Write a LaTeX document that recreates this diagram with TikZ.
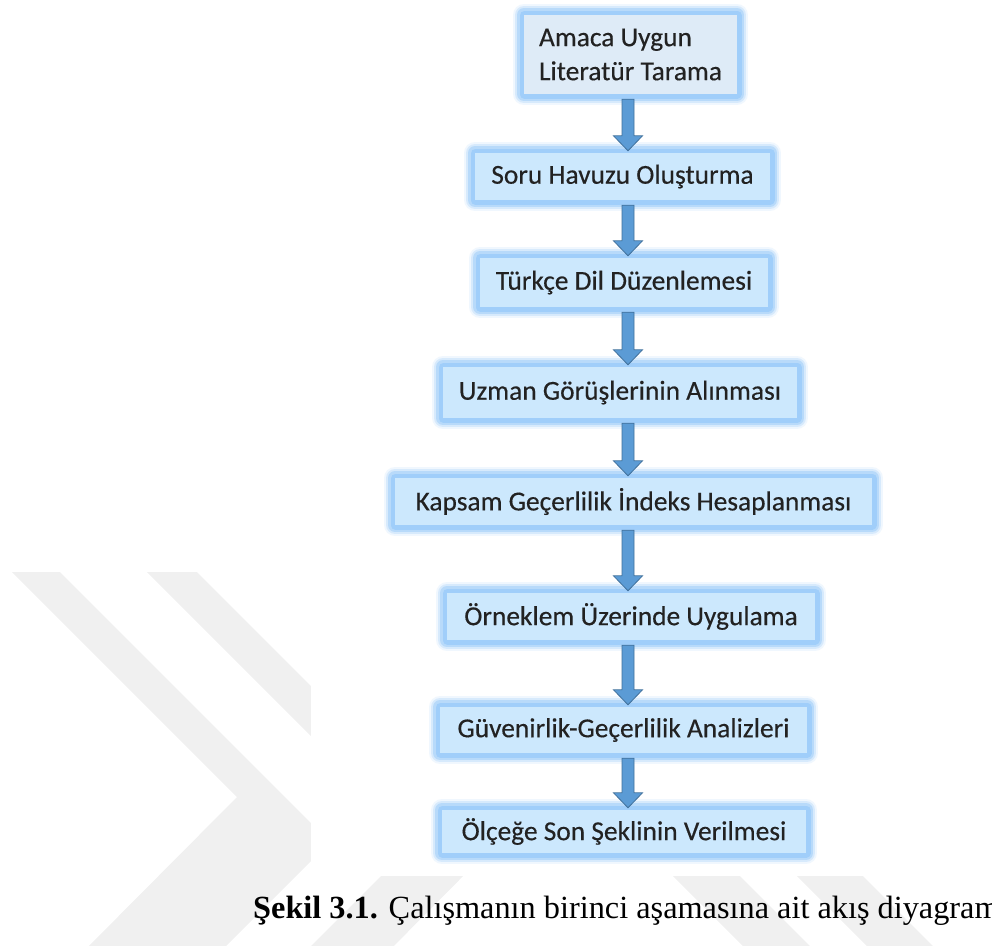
\documentclass[tikz,border=0pt]{standalone}
\usepackage{fontspec}
\setmainfont{Carlito}
\newfontfamily\boxfont{Carlito}[FakeBold=0.35]
\newfontfamily\capfont{Liberation Serif}
\usetikzlibrary{calc}
\definecolor{boxfill}{RGB}{204,232,253}
\definecolor{boxfillA}{RGB}{222,235,247}
\definecolor{glowc}{RGB}{160,206,250}
\definecolor{arrfill}{RGB}{91,155,213}
\definecolor{arredge}{RGB}{65,113,156}
\definecolor{wm}{RGB}{240,240,240}
\definecolor{txt}{RGB}{34,34,34}
\tikzset{
  stepbox/.style={fill=boxfill, minimum height=47pt, inner sep=0pt, text=txt,
    font=\boxfont\fontsize{27.4}{34}\selectfont,
    preaction={draw=glowc, line width=22pt, opacity=0.15, line join=round},
    preaction={draw=glowc, line width=18pt, opacity=0.3, line join=round},
    preaction={draw=glowc, line width=14pt, opacity=0.55, line join=round},
    preaction={draw=glowc, line width=9pt, line join=round}},
  flowarr/.style={fill=arrfill, draw=arredge, line width=0.8pt, line join=miter},
  wmark/.style={fill=wm, draw=none}
}
\newcommand\flowarrow[2]{%
  \path[flowarr] let \p1=($(#1.south)+(0,5)$), \p2=($(#2.north)+(0,-2)$), \p3=(axis) in
    (\x3-6pt,\y1) -- (\x3+6pt,\y1) -- (\x3+6pt,\y2+15pt) -- (\x3+14.5pt,\y2+15pt)
    -- (\x3,\y2) -- (\x3-14.5pt,\y2+15pt) -- (\x3-6pt,\y2+15pt) -- cycle;}
\begin{document}
\begin{tikzpicture}[x=1pt,y=-1pt]
\useasboundingbox (0,0) rectangle (992,945);
\clip (0,0) rectangle (992,945);
% watermark
\fill[wmark] (12,572) -- (60,572) -- (330,842) -- (212,960) -- (75,960) -- (237,797) -- cycle;
\fill[wmark] (147,572) -- (197,572) -- (482,857) -- (380,960) -- (297,960) -- (416,841) -- cycle;
\fill[wmark] (673,876) -- (740,876) -- (829,965) -- (762,965) -- cycle;
\fill[wmark] (797,876) -- (863,876) -- (952,965) -- (886,965) -- cycle;
% image area
\fill[white] (311,0) rectangle (992,876);
\coordinate (axis) at (628,0);
\node[stepbox, fill=boxfillA, minimum width=213pt, minimum height=79pt, align=left] (n1) at (630.5,54.5) {Amaca Uygun\\Literatür Tarama};
\node[stepbox, minimum width=295pt] (n2) at (622.5,176.5) {Soru Havuzu Oluşturma};
\node[stepbox, minimum width=288pt, minimum height=49pt] (n3) at (624,282.5) {Türkçe Dil Düzenlemesi};
\node[stepbox, minimum width=354pt, minimum height=51pt] (n4) at (620,392.5) {Uzman Görüşlerinin Alınması};
\node[stepbox, minimum width=477pt] (n5) at (633.5,501.5) {Kapsam Geçerlilik İndeks Hesaplanması};
\node[stepbox, minimum width=368pt] (n6) at (631,616.5) {Örneklem Üzerinde Uygulama};
\node[stepbox, minimum width=367pt, minimum height=46pt] (n7) at (623.5,730) {Güvenirlik-Geçerlilik Analizleri};
\node[stepbox, minimum width=364pt, minimum height=43pt] (n8) at (624,831.5) {Ölçeğe Son Şeklinin Verilmesi};
\flowarrow{n1}{n2}
\flowarrow{n2}{n3}
\flowarrow{n3}{n4}
\flowarrow{n4}{n5}
\flowarrow{n5}{n6}
\flowarrow{n6}{n7}
\flowarrow{n7}{n8}
\node[anchor=base west, inner sep=0pt, text=black, font=\capfont\fontsize{32.3}{38}\selectfont] (cap) at (253,918) {\textbf{Şekil 3.1.} Çalışmanın birinci aşamasına ait akış diyagramı};
\end{tikzpicture}
\end{document}
